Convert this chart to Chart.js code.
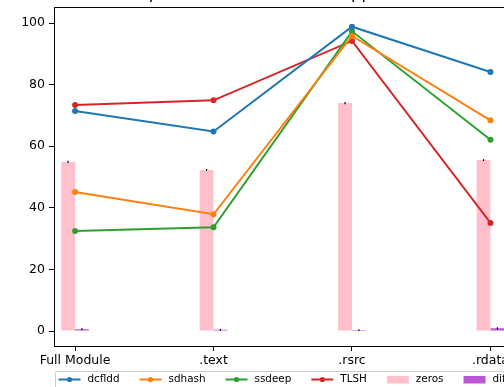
<!DOCTYPE html>
<html>
<head>
<meta charset="utf-8">
<script src="https://cdn.jsdelivr.net/npm/chart.js@4"></script>
<style>
  html, body { margin: 0; padding: 0; background: #fff; overflow: hidden; width: 504px; height: 387px; }
  #wrap { position: relative; width: 540px; height: 387px; }
</style>
</head>
<body>
<div id="wrap"><canvas id="c"></canvas></div>
<script>
// Sections compared
const categories = ['Full Module', '.text', '.rsrc', '.rdata'];

// Similarity scores per tool
const dcfldd = [71.4, 64.8, 98.8, 84.1];
const sdhash = [45.1, 37.9, 95.8, 68.4];
const ssdeep = [32.5, 33.7, 97.3, 62.1];
const tlsh   = [73.4, 74.9, 94.2, 35.1];

// Bar series with their error half-widths
const zeros    = [54.9, 52.3, 74.0, 55.5];
const zerosErr = [0.35, 0.3, 0.35, 0.3];
const diff     = [0.6, 0.4, 0.3, 0.9];
const diffErr  = [0.3, 0.3, 0.3, 0.3];

const yTicks = [0, 20, 40, 60, 80, 100];
const titleText = 'processes on Windows app DLLs';

Chart.defaults.font.family = "'DejaVu Sans', sans-serif";
Chart.defaults.color = '#000';

const pts = arr => arr.map((v, i) => ({ x: i, y: v }));

function lineSet(label, arr, color) {
  return {
    type: 'line', label, data: pts(arr), borderColor: color, backgroundColor: color,
    borderWidth: 2, pointRadius: 3, pointHoverRadius: 3, pointBorderWidth: 0,
    tension: 0, order: 1
  };
}

const errorBars = {
  id: 'errorBars',
  afterDatasetsDraw(chart) {
    const ctx = chart.ctx, y = chart.scales.y;
    const pairs = [[4, zeros, zerosErr], [5, diff, diffErr]];
    ctx.save();
    ctx.strokeStyle = '#000';
    ctx.lineWidth = 1.2;
    pairs.forEach(([di, vals, errs]) => {
      chart.getDatasetMeta(di).data.forEach((bar, i) => {
        ctx.beginPath();
        ctx.moveTo(bar.x, y.getPixelForValue(vals[i] - errs[i]));
        ctx.lineTo(bar.x, y.getPixelForValue(vals[i] + errs[i]));
        ctx.stroke();
      });
    });
    ctx.restore();
  }
};

const frame = {
  id: 'frame',
  afterDraw(chart) {
    const { ctx, chartArea: a } = chart;
    ctx.save();
    ctx.strokeStyle = '#000';
    ctx.lineWidth = 1;
    ctx.strokeRect(Math.round(a.left) + 0.5, Math.round(a.top) + 0.5,
                   Math.round(a.right - a.left) - 1, Math.round(a.bottom - a.top));
    // title above the axes
    ctx.fillStyle = '#000';
    ctx.font = "16.5px 'DejaVu Sans'";
    ctx.textAlign = 'center';
    ctx.textBaseline = 'alphabetic';
    ctx.fillText(titleText, (a.left + a.right) / 2, -1.5);
    ctx.restore();
  }
};

const legendBox = {
  id: 'legendBox',
  afterDraw(chart) {
    const ctx = chart.ctx;
    const top = 371.5, left = 55.5, rowY = 379.5;
    const handle = 22, pad = 7, gap = 20;
    ctx.save();
    ctx.font = "10.4px 'DejaVu Sans'";
    ctx.fillStyle = 'rgba(255,255,255,0.8)';
    ctx.strokeStyle = '#cccccc';
    ctx.lineWidth = 1;
    ctx.beginPath();
    ctx.roundRect(left, top, 560, 24, 2);
    ctx.fill();
    ctx.stroke();
    let x = left + 3;
    chart.data.datasets.forEach(ds => {
      if (ds.type === 'line') {
        ctx.strokeStyle = ds.borderColor;
        ctx.lineWidth = 2;
        ctx.beginPath();
        ctx.moveTo(x, rowY); ctx.lineTo(x + handle, rowY);
        ctx.stroke();
        ctx.fillStyle = ds.borderColor;
        ctx.beginPath();
        ctx.arc(x + handle / 2, rowY, 2.6, 0, Math.PI * 2);
        ctx.fill();
      } else {
        ctx.fillStyle = ds.backgroundColor;
        ctx.fillRect(x, rowY - 3.5, handle, 7.5);
      }
      x += handle + pad;
      ctx.fillStyle = '#000';
      ctx.textBaseline = 'middle';
      ctx.textAlign = 'left';
      ctx.fillText(ds.label, x, rowY);
      x += ctx.measureText(ds.label).width + gap;
    });
    ctx.restore();
  }
};

new Chart(document.getElementById('c'), {
  data: {
    datasets: [
      lineSet('dcfldd', dcfldd, '#1f77b4'),
      lineSet('sdhash', sdhash, '#ff7f0e'),
      lineSet('ssdeep', ssdeep, '#2ca02c'),
      lineSet('TLSH', tlsh, '#d62728'),
      { type: 'bar', label: 'zeros', data: pts(zeros), backgroundColor: '#ffc0cb',
        barPercentage: 1, categoryPercentage: 0.2, order: 2 },
      { type: 'bar', label: 'diff', data: pts(diff), backgroundColor: '#ba55d3',
        barPercentage: 1, categoryPercentage: 0.2, order: 2 }
    ]
  },
  options: {
    responsive: true,
    maintainAspectRatio: false,
    animation: false,
    events: [],
    layout: { padding: { top: 7, right: 28.5, left: 0, bottom: 0 } },
    plugins: { legend: { display: false }, title: { display: false }, tooltip: { enabled: false } },
    scales: {
      x: {
        type: 'linear', min: -0.152, max: 3.152, offset: false,
        afterBuildTicks: s => { s.ticks = categories.map((_, i) => ({ value: i })); },
        afterFit: s => { s.height = 41; s.paddingLeft = 0; s.paddingRight = 0; },
        ticks: { callback: v => categories[v], font: { size: 12.5 }, padding: 2, maxRotation: 0, autoSkip: false },
        grid: { display: true, offset: false, drawOnChartArea: false, drawTicks: true, tickLength: 5, tickColor: '#000', tickWidth: 1 },
        border: { display: true, color: '#000', width: 1 }
      },
      y: {
        type: 'linear', min: -4.87, max: 105.2,
        afterBuildTicks: s => { s.ticks = yTicks.map(v => ({ value: v })); },
        afterFit: s => { s.width = 54; s.paddingTop = 0; s.paddingBottom = 0; },
        ticks: { font: { size: 12.5 }, padding: 4 },
        grid: { display: true, drawOnChartArea: false, drawTicks: true, tickLength: 5, tickColor: '#000', tickWidth: 1 },
        border: { display: true, color: '#000', width: 1 }
      }
    }
  },
  plugins: [errorBars, frame, legendBox]
});
</script>
</body>
</html>
